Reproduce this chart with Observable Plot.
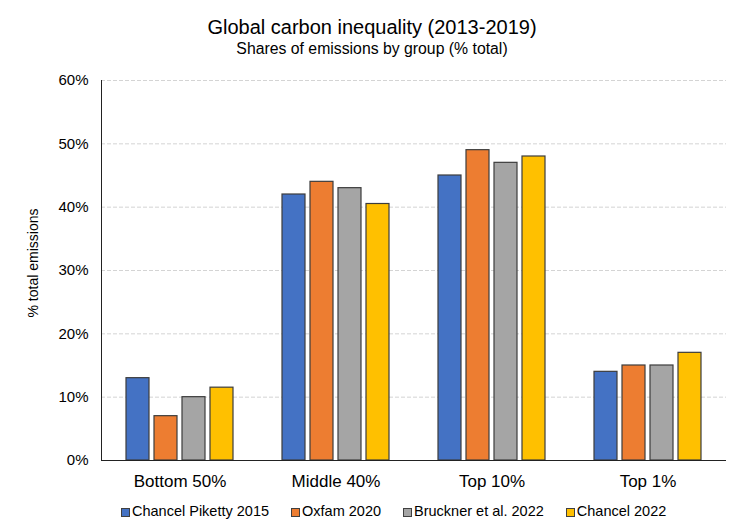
<!DOCTYPE html>
<html>
<head>
<meta charset="utf-8">
<script src="https://cdn.jsdelivr.net/npm/d3@7"></script>
<script src="https://cdn.jsdelivr.net/npm/@observablehq/plot@0.6"></script>
<style>
  html, body { margin: 0; padding: 0; background: #fff; }
  body { font-family: "Liberation Sans", Arial, Helvetica, sans-serif; color: #000; }
  #chart { position: relative; width: 737px; height: 530px; overflow: hidden; }
  .title { position: absolute; left: 0; width: 744px; text-align: center; line-height: 1; white-space: nowrap; }
  #title { top: 17px; font-size: 20px; }
  #subtitle { top: 40.6px; font-size: 15.8px; }
  #plot { position: absolute; left: 0; top: 60px; }
  #ylabel { position: absolute; left: 33px; top: 263px; transform: translate(-50%, -50%) rotate(-90deg); font-size: 14px; line-height: 1; white-space: nowrap; }
  #legend { position: absolute; left: 121px; top: 504.4px; display: flex; gap: 22px; font-size: 14.5px; line-height: 1; white-space: nowrap; }
  .item { display: flex; align-items: center; }
  .swatch { width: 7px; height: 7px; border: 1px solid #404040; margin-right: 2px; margin-top: 1px; }
</style>
</head>
<body>
<div id="chart">
  <div class="title" id="title">Global carbon inequality (2013-2019)</div>
  <div class="title" id="subtitle">Shares of emissions by group (% total)</div>
  <div id="plot"></div>
  <div id="ylabel">% total emissions</div>
  <div id="legend"></div>
</div>
<script>
// Population groups along the x axis
const groups = ["Bottom 50%", "Middle 40%", "Top 10%", "Top 1%"];
// Studies compared within each group
const sources = ["Chancel Piketty 2015", "Oxfam 2020", "Bruckner et al. 2022", "Chancel 2022"];
const colors = ["#4472C4", "#ED7D31", "#A5A5A5", "#FFC000"];

// Share of global emissions (%) per group, one array per study
const chancelPiketty2015 = [13, 42, 45, 14];
const oxfam2020 = [7, 44, 49, 15];
const bruckner2022 = [10, 43, 47, 15];
const chancel2022 = [11.5, 40.5, 48, 17];

const yTicks = [0, 10, 20, 30, 40, 50, 60];

const series = [chancelPiketty2015, oxfam2020, bruckner2022, chancel2022];
const rows = sources.flatMap((source, j) =>
  groups.map((group, i) => ({group, source, value: series[j][i]}))
);

// Each group band holds four bars; each bar is inset to its own slot
const slot = 28;
const n = sources.length;

const chart = Plot.plot({
  width: 737,
  height: 430,
  marginTop: 20,
  marginBottom: 30,
  marginLeft: 101,
  marginRight: 11,
  style: {fontFamily: "'Liberation Sans', Arial, Helvetica, sans-serif", fontSize: "15px", color: "#000", background: "transparent"},
  x: {domain: groups, paddingInner: 0.3136, paddingOuter: 0.1568},
  y: {domain: [0, 60]},
  color: {domain: sources, range: colors},
  marks: [
    Plot.gridY(yTicks.filter(d => d > 0), {stroke: "#d4d4d4", strokeOpacity: 1, strokeDasharray: "4,2"}),
    ...sources.map((s, j) =>
      Plot.barY(rows.filter(d => d.source === s), {
        x: "group",
        y: "value",
        fill: "source",
        stroke: "#3c3c3c",
        strokeWidth: 1.2,
        insetLeft: j * slot,
        insetRight: (n - 1 - j) * slot
      })
    ),
    Plot.ruleY([0], {stroke: "#222"}),
    Plot.frame({anchor: "left", stroke: "#222"}),
    Plot.axisY(yTicks, {tickSize: 0, tickPadding: 13, tickFormat: d => `${d}%`, fontSize: 15, label: null}),
    Plot.axisX({tickSize: 0, tickPadding: 14, fontSize: 17, label: null})
  ]
});
document.getElementById("plot").appendChild(chart);

// Legend row below the chart
const legend = d3.select("#legend");
sources.forEach((s, j) => {
  const item = legend.append("div").attr("class", "item");
  item.append("div").attr("class", "swatch").style("background", colors[j]);
  item.append("span").text(s);
});
</script>
</body>
</html>
